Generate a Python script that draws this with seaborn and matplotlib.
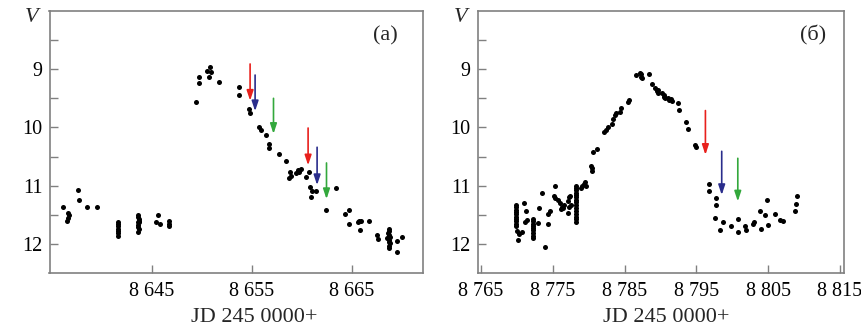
import numpy as np
import pandas as pd
import matplotlib
matplotlib.use("Agg")
import matplotlib.pyplot as plt
import seaborn as sns
from matplotlib.ticker import FixedLocator, FuncFormatter

# ---------------- data ----------------
# Panel (a)
a_jd = [8636.17, 8636.5, 8636.65, 8636.7, 8636.68,
        8637.66, 8637.7, 8638.5, 8639.5,
        8641.6, 8641.6, 8641.6, 8641.6, 8641.6, 8641.6, 8641.6,
        8643.6, 8643.65, 8643.8, 8643.7, 8643.6, 8643.75, 8643.65, 8643.6, 8643.7, 8643.65,
        8645.6, 8645.43, 8645.83, 8646.8, 8646.8, 8646.8,
        8649.43, 8649.76, 8649.73, 8650.5, 8650.83, 8650.9, 8650.73, 8651.8,
        8653.73, 8653.8, 8654.73, 8654.86, 8655.8, 8655.93, 8656.4, 8656.8, 8656.8,
        8657.7, 8658.43, 8658.87, 8658.8, 8658.93, 8659.4, 8659.66, 8659.9, 8659.76,
        8660.4, 8660.76, 8660.83, 8661.03, 8660.93, 8661.43, 8663.43, 8662.43,
        8664.36, 8664.73, 8664.73, 8665.6, 8665.76, 8665.93, 8665.83, 8666.7,
        8667.5, 8667.66,
        8668.7, 8668.8, 8668.6, 8668.75, 8668.9, 8668.65, 8668.8, 8668.7, 8668.85, 8668.75, 8668.8, 8668.7,
        8668.5, 8669.56, 8669.5, 8670.0]
a_mag = [11.36, 11.6, 11.55, 11.5, 11.47,
         11.08, 11.25, 11.37, 11.37,
         11.62, 11.66, 11.70, 11.74, 11.78, 11.82, 11.86,
         11.5, 11.54, 11.57, 11.6, 11.63, 11.62, 11.67, 11.71, 11.75, 11.8,
         11.5, 11.63, 11.65, 11.61, 11.65, 11.69,
         9.57, 9.14, 9.23, 9.03, 8.96, 9.05, 9.13, 9.22,
         9.3, 9.44, 9.68, 9.75, 10.0, 10.04, 10.13, 10.28, 10.36,
         10.46, 10.57, 10.76, 10.87, 10.83, 10.78, 10.73, 10.72, 10.76,
         10.85, 10.76, 11.03, 11.09, 11.2, 11.1, 11.04, 11.41,
         11.49, 11.42, 11.66, 11.63, 11.61, 11.6, 11.76, 11.61,
         11.84, 11.92,
         11.74, 11.78, 11.82, 11.86, 11.88, 11.9, 11.93, 11.96, 11.99, 12.03, 12.07, 11.85,
         11.9, 11.95, 12.14, 11.88]

# Panel (б)
b_jd = [8769.84] * 10 + [8770.07, 8770.35, 8770.2, 8770.77,
        8771.0, 8771.28, 8771.37, 8771.16] + [8772.2] * 9 + [
        8773.09, 8773.0, 8773.47, 8773.93, 8774.3, 8774.4, 8774.56,
        8775.28, 8775.19, 8775.37, 8775.74, 8776.02, 8776.12, 8776.35, 8776.49, 8776.63,
        8777.09, 8777.28, 8777.42, 8777.19, 8777.51, 8777.33] + [8778.26] * 15 + [
        8778.95, 8779.05, 8779.35, 8779.45, 8779.6,
        8780.35, 8780.45, 8780.5, 8780.6, 8781.2,
        8782.07, 8782.4, 8782.63, 8783.3, 8783.45, 8783.65, 8783.8,
        8784.4, 8784.5, 8785.47, 8785.56,
        8786.6, 8787.1, 8787.3, 8787.45, 8787.25, 8788.35, 8788.8,
        8789.3, 8789.6, 8789.7, 8789.45, 8790.2, 8790.45, 8790.65, 8790.55,
        8791.1, 8791.45, 8791.25, 8791.6, 8792.44, 8792.63, 8793.6, 8793.8,
        8794.75, 8794.9,
        8796.7, 8796.7, 8797.74, 8797.74, 8797.65, 8798.35, 8798.77, 8799.84,
        8800.8, 8800.8, 8801.84, 8801.93, 8802.9, 8803.0, 8803.84, 8804.0,
        8804.6, 8804.8, 8804.95, 8805.9, 8806.7, 8807.0, 8808.77, 8808.86, 8808.95]
b_mag = [11.33, 11.37, 11.41, 11.45, 11.49, 11.53, 11.57, 11.61, 11.65, 11.69,
         11.78, 11.83, 11.94, 11.8,
         11.29, 11.43, 11.59, 11.63,
         11.57, 11.61, 11.65, 11.69, 11.73, 11.77, 11.81, 11.86, 11.9,
         11.38, 11.64, 11.13, 12.06, 11.66, 11.49, 11.44,
         11.01, 11.17, 11.21, 11.25, 11.29, 11.4, 11.37, 11.38, 11.33,
         11.26, 11.19, 11.18, 11.47, 11.34, 11.37,
         11.0, 11.04, 11.08, 11.12, 11.16, 11.2, 11.24, 11.28, 11.33, 11.38, 11.43, 11.48, 11.53, 11.58, 11.63,
         11.04, 11.01, 10.97, 10.93, 11.0,
         10.66, 10.7, 10.74, 10.43, 10.37,
         10.07, 10.04, 10.0, 9.94, 9.86, 9.79, 9.76,
         9.73, 9.67, 9.57, 9.53,
         9.1, 9.06, 9.13, 9.15, 9.09, 9.09, 9.25,
         9.33, 9.36, 9.4, 9.38, 9.4, 9.44, 9.5, 9.47,
         9.49, 9.51, 9.53, 9.55, 9.58, 9.7, 9.91, 10.03,
         10.3, 10.33,
         10.97, 11.1, 11.22, 11.33, 11.55, 11.77, 11.63, 11.7,
         11.57, 11.8, 11.69, 11.77, 11.65, 11.63, 11.43, 11.75,
         11.5, 11.24, 11.67, 11.49, 11.59, 11.61, 11.43, 11.31, 11.17]

# arrows: (jd, mag_start, mag_end)
a_arrow_jd = [8654.86, 8655.36, 8657.2, 8660.66, 8661.56, 8662.5]
a_arrow_top = [8.91, 9.10, 9.50, 10.01, 10.34, 10.61]
a_arrow_tip = [9.54, 9.72, 10.11, 10.65, 10.99, 11.23]
a_arrow_col = ["red", "blue", "green", "red", "blue", "green"]

b_arrow_jd = [8796.26, 8798.53, 8800.77]
b_arrow_top = [9.71, 10.41, 10.53]
b_arrow_tip = [10.47, 11.16, 11.27]
b_arrow_col = ["red", "blue", "green"]

a_xticks = [8645, 8655, 8665]
b_xticks = [8765, 8775, 8785, 8795, 8805, 8815]
y_ticks = [8.5, 9.0, 9.5, 10.0, 10.5, 11.0, 11.5, 12.0]

palette = {"red": "#e8201c", "blue": "#2a2d8c", "green": "#33a83c"}

# ---------------- style ----------------
sns.set_theme(style="ticks")
plt.rcParams["font.family"] = "serif"
plt.rcParams["font.serif"] = ["Liberation Serif"]

FS_TICK = 14.5
FS_LAB = 16
GRAY = "#808080"
SERIF = "Liberation Serif"

fig = plt.figure(figsize=(8.61, 3.29), dpi=100)
ax1 = fig.add_axes([49.5 / 861, 1 - 273 / 329, (423 - 49.5) / 861, (273 - 11) / 329])
ax2 = fig.add_axes([477.7 / 861, 1 - 273 / 329, (844.3 - 477.7) / 861, (273 - 11) / 329])

df_a = pd.DataFrame({"jd": a_jd, "mag": a_mag})
df_b = pd.DataFrame({"jd": b_jd, "mag": b_mag})

sns.scatterplot(data=df_a, x="jd", y="mag", ax=ax1, color="black", s=13, linewidth=0)
sns.scatterplot(data=df_b, x="jd", y="mag", ax=ax2, color="black", s=13, linewidth=0)


def fmt_x(v, pos):
    s = f"{int(round(v))}"
    return s[0] + " " + s[1:]


def fmt_y(v, pos):
    return f"{int(v)}" if abs(v - round(v)) < 1e-6 else ""


for ax, xl, xticks, ajd, atop, atip, acol, label, lblx, xlabx in [
    (ax1, (8634.8, 8672.15), a_xticks, a_arrow_jd, a_arrow_top, a_arrow_tip, a_arrow_col, "(a)", 0.898, 0.548),
    (ax2, (8764.55, 8815.6), b_xticks, b_arrow_jd, b_arrow_top, b_arrow_tip, b_arrow_col, "(б)", 0.915, 0.514),
]:
    ax.set_xlim(*xl)
    ax.set_ylim(12.5, 8.0)
    ax.xaxis.set_major_locator(FixedLocator(xticks))
    ax.xaxis.set_major_formatter(FuncFormatter(fmt_x))
    ax.yaxis.set_major_locator(FixedLocator(y_ticks))
    ax.yaxis.set_major_formatter(FuncFormatter(fmt_y))
    ax.tick_params(direction="in", length=6, width=1.0, color=GRAY,
                   labelsize=FS_TICK, labelcolor="black")
    ax.tick_params(axis="x", pad=6.5)
    ax.tick_params(axis="y", pad=5)
    for t in ax.get_xticklabels() + ax.get_yticklabels():
        t.set_fontfamily(SERIF)
    for sp in ax.spines.values():
        sp.set_visible(True)
        sp.set_color(GRAY)
        sp.set_linewidth(1.2)
    ax.set_xlabel("JD 245 0000+", fontsize=FS_LAB, fontfamily=SERIF)
    ax.xaxis.set_label_coords(xlabx, -0.135)
    ax.set_ylabel("")
    ax.text(-0.047, 0.975, "V", transform=ax.transAxes, fontsize=FS_LAB,
            fontfamily=SERIF, fontstyle="italic", ha="center", va="center")
    ax.text(lblx, 0.905, label, transform=ax.transAxes, fontsize=FS_LAB,
            fontfamily=SERIF, ha="center", va="center")
    for x, y0, y1, c in zip(ajd, atop, atip, acol):
        ax.annotate("", xy=(x, y1), xytext=(x, y0),
                    arrowprops=dict(arrowstyle="-|>,head_length=0.6,head_width=0.2",
                                    color=palette[c], lw=1.2, shrinkA=0, shrinkB=0,
                                    mutation_scale=10))

fig.savefig("out.png", dpi=100)
